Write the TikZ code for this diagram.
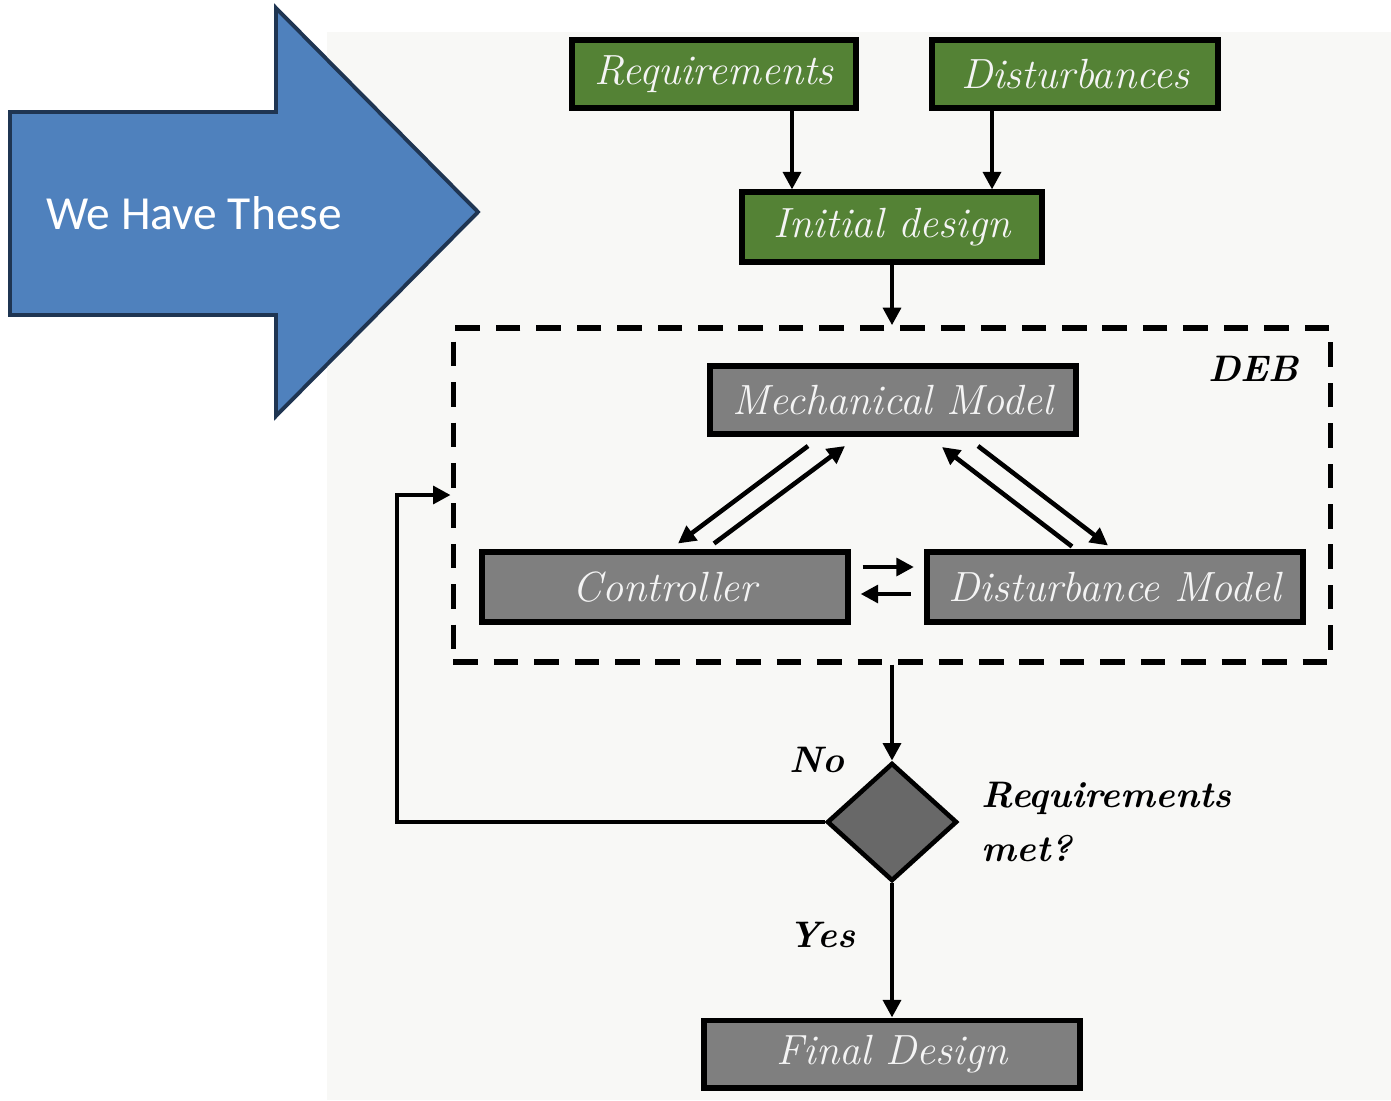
\documentclass[tikz,border=0pt]{standalone}
\usepackage{fontspec}
\newfontfamily\arrowfont{Carlito}
\usetikzlibrary{arrows.meta,shapes.geometric,positioning,calc}
\definecolor{panelgray}{HTML}{F8F8F6}
\definecolor{boxgreen}{HTML}{548235}
\definecolor{boxgray}{HTML}{7F7F7F}
\definecolor{diagray}{HTML}{686868}
\definecolor{arrowblue}{HTML}{4F81BD}
\definecolor{arrowedge}{HTML}{1F3552}
\definecolor{boxtext}{HTML}{F4F4F4}

\begin{document}
\begin{tikzpicture}[x=0.01cm,y=-0.01cm,
  stagebox/.style={draw=black,line width=1.7pt,inner sep=0pt,
    text=boxtext,font=\fontsize{12}{14}\selectfont\itshape},
  greenbox/.style={stagebox,fill=boxgreen},
  graybox/.style={stagebox,fill=boxgray},
  flowlabel/.style={font=\fontsize{10.5}{15.6}\selectfont\bfseries\itshape},
  arr/.style={line width=1.3pt,-{Triangle[length=5pt,width=5pt]}}]
\useasboundingbox (0,0) rectangle (1391,1100);
\fill[panelgray] (327,32) rectangle (1391,1100);
\draw[line width=1.1pt,draw=arrowedge,fill=arrowblue,line join=miter]
  (10,112) -- (276,112) -- (276,8) -- (478,212) -- (276,416) -- (276,315) -- (10,315) -- cycle;
\node[text=white,font=\arrowfont\fontsize{13.5}{16}\selectfont] (have) at (194,213) {We Have These};
\node[greenbox,minimum width=2.83cm,minimum height=0.67cm] (req) at (714,74) {Requirements};
\node[greenbox,minimum width=2.85cm,minimum height=0.67cm] (dist) at (1075,74) {Disturbances};
\node[greenbox,minimum width=3.0cm,minimum height=0.69cm] (init) at (892,227) {Initial design};
\node[draw,dash pattern=on 7pt off 4.5pt,line width=1.5pt,minimum width=8.77cm,minimum height=3.34cm,inner sep=0pt] (deb) at (892,495) {};
\node[flowlabel,anchor=north east] (debname) at ($(deb.north east)+(-22,18)$) {DEB};
\node[graybox,minimum width=3.65cm,minimum height=0.68cm] (mech) at (893,400) {Mechanical Model};
\node[graybox,minimum width=3.65cm,minimum height=0.69cm] (ctrl) at (665,587) {Controller};
\node[graybox,minimum width=3.76cm,minimum height=0.69cm] (distm) at (1115,587) {Disturbance Model};
\node[diamond,draw=black,line width=1.3pt,fill=diagray,minimum width=1.3cm,minimum height=1.18cm,inner sep=0pt] (check) at (892,822) {};
\node[flowlabel,align=left,right=0.1cm of check] (met) {Requirements\\met?};
\node[flowlabel] (no) at (817,760) {No};
\node[flowlabel] (yes) at (822,935) {Yes};
\node[graybox,minimum width=3.75cm,minimum height=0.67cm] (final) at (892,1054) {Final Design};
\coordinate (loop) at (397,822);
\draw[arr] ($(req.south)+(78,0)$) -- ($(init.north)+(-100,0)$);
\draw[arr] ($(dist.south)+(-83,0)$) -- ($(init.north)+(100,0)$);
\draw[arr] (init.south) -- (deb.north);
\draw[arr] ($(mech.south)+(-85,9)$) -- ($(ctrl.north)+(13,-6)$);
\draw[arr] ($(ctrl.north)+(49,-6)$) -- ($(mech.south)+(-48,9)$);
\draw[arr] ($(mech.south)+(85,9)$) -- ($(distm.north)+(-7,-4)$);
\draw[arr] ($(distm.north)+(-43,-3)$) -- ($(mech.south)+(49,10)$);
\draw[arr] ($(ctrl.east)+(12,-20)$) -- ($(distm.west)+(-10,-20)$);
\draw[arr] ($(distm.west)+(-13,7)$) -- ($(ctrl.east)+(10,7)$);
\draw[arr] (deb.south) -- (check.north);
\draw[arr] (check.west) -- (loop) |- (deb.west);
\draw[arr] (check.south) -- (final.north);
\end{tikzpicture}
\end{document}
